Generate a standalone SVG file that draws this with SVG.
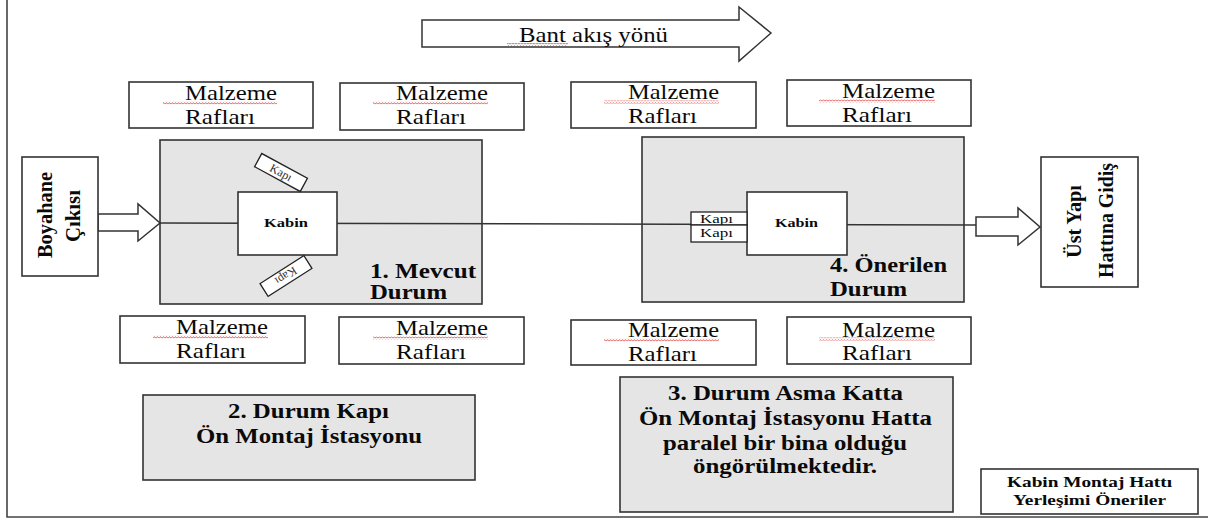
<svg xmlns="http://www.w3.org/2000/svg" width="1208" height="519" viewBox="0 0 1208 519" font-family="'Liberation Serif', 'DejaVu Serif', serif">
<style>
text{font-family:'Liberation Serif','DejaVu Serif',serif;fill:#0a0a0a}
.box{fill:#fff;stroke:#333;stroke-width:1.6}
.gray{fill:#e5e5e5;stroke:#333;stroke-width:1.6}
.thin{fill:#fff;stroke:#222;stroke-width:1.3}
.arrow{fill:#fff;stroke:#333;stroke-width:1.5;stroke-linejoin:miter}
.r21{font-size:22px}
.b20{font-size:20px;font-weight:bold}
.kapi{font-size:12px;fill:#333}
.kabin{font-size:12px;font-weight:bold}
.sq{fill:url(#squig)}
</style>
<defs>
<pattern id="squig" patternUnits="userSpaceOnUse" width="3" height="3">
<path d="M0 2.4 L1.5 0.6 L3 2.4" fill="none" stroke="#e0484a" stroke-width="0.9"/>
</pattern>
</defs>
<rect width="1208" height="519" fill="#fff"/>
<g id="frame" fill="none" stroke="#444" stroke-width="1.6">
<path d="M7 0 V517 H1208"/>
</g>
<g id="bant">
<path class="arrow" d="M422 20 H739 V7 L771 33 L739 61 V47 H422 Z"/>
<text x="519" y="42" font-size="22" textLength="149" lengthAdjust="spacingAndGlyphs">Bant akış yönü</text>
<rect class="sq" x="507" y="43" width="61" height="3"/>
</g>
<g id="raf-top-1">
<rect class="box" x="129" y="82" width="184" height="46"/>
<text class="r21" x="185" y="100" textLength="92" lengthAdjust="spacingAndGlyphs">Malzeme</text>
<text class="r21" x="185" y="124" textLength="70" lengthAdjust="spacingAndGlyphs">Rafları</text>
<rect class="sq" x="163" y="101.5" width="114" height="3"/>
</g>
<g id="raf-top-2">
<rect class="box" x="340" y="83" width="184" height="47"/>
<text class="r21" x="396" y="100" textLength="92" lengthAdjust="spacingAndGlyphs">Malzeme</text>
<text class="r21" x="396" y="124" textLength="70" lengthAdjust="spacingAndGlyphs">Rafları</text>
<rect class="sq" x="373" y="101.5" width="115" height="3"/>
</g>
<g id="raf-top-3">
<rect class="box" x="571" y="82" width="185" height="46"/>
<text class="r21" x="628" y="99" textLength="91" lengthAdjust="spacingAndGlyphs">Malzeme</text>
<text class="r21" x="628" y="123" textLength="69" lengthAdjust="spacingAndGlyphs">Rafları</text>
<rect class="sq" x="604" y="100.5" width="115" height="3"/>
</g>
<g id="raf-top-4">
<rect class="box" x="787" y="80" width="184" height="46"/>
<text class="r21" x="842" y="98" textLength="93" lengthAdjust="spacingAndGlyphs">Malzeme</text>
<text class="r21" x="842" y="122" textLength="70" lengthAdjust="spacingAndGlyphs">Rafları</text>
<rect class="sq" x="819" y="99.5" width="116" height="3"/>
</g>
<g id="raf-bot-1">
<rect class="box" x="120" y="316" width="185" height="47"/>
<text class="r21" x="176" y="334" textLength="92" lengthAdjust="spacingAndGlyphs">Malzeme</text>
<text class="r21" x="176" y="358" textLength="70" lengthAdjust="spacingAndGlyphs">Rafları</text>
<rect class="sq" x="153" y="335.5" width="115" height="3"/>
</g>
<g id="raf-bot-2">
<rect class="box" x="339" y="317" width="185" height="47"/>
<text class="r21" x="396" y="335" textLength="92" lengthAdjust="spacingAndGlyphs">Malzeme</text>
<text class="r21" x="396" y="359" textLength="70" lengthAdjust="spacingAndGlyphs">Rafları</text>
<rect class="sq" x="373" y="336.5" width="115" height="3"/>
</g>
<g id="raf-bot-3">
<rect class="box" x="571" y="320" width="185" height="45"/>
<text class="r21" x="628" y="337" textLength="91" lengthAdjust="spacingAndGlyphs">Malzeme</text>
<text class="r21" x="628" y="361" textLength="69" lengthAdjust="spacingAndGlyphs">Rafları</text>
<rect class="sq" x="604" y="338.5" width="115" height="3"/>
</g>
<g id="raf-bot-4">
<rect class="box" x="787" y="317" width="184" height="47"/>
<text class="r21" x="842" y="337" textLength="93" lengthAdjust="spacingAndGlyphs">Malzeme</text>
<text class="r21" x="842" y="360" textLength="70" lengthAdjust="spacingAndGlyphs">Rafları</text>
<rect class="sq" x="819" y="337.5" width="116" height="3"/>
</g>
<g id="durum-1">
<rect class="gray" x="160" y="140" width="322" height="164"/>
<text class="b20" x="370" y="278" textLength="106" lengthAdjust="spacingAndGlyphs">1. Mevcut</text>
<text class="b20" x="370" y="299" textLength="77" lengthAdjust="spacingAndGlyphs">Durum</text>
</g>
<g id="durum-4">
<rect class="gray" x="642" y="137" width="322" height="165"/>
<text class="b20" x="830" y="272" textLength="117" lengthAdjust="spacingAndGlyphs">4. Önerilen</text>
<text class="b20" x="830" y="296" textLength="77" lengthAdjust="spacingAndGlyphs">Durum</text>
</g>
<g id="connectors">
<path d="M160 223 L976 225" fill="none" stroke="#333" stroke-width="1.5"/>
<path class="arrow" d="M98 214 H138 V204 L160 223 L138 241 V231 H98 Z"/>
<path class="arrow" d="M976 217 H1018 V208 L1040 227 L1018 245 V236 H976 Z"/>
</g>
<g id="kabin-1">
<rect class="box" x="238" y="192" width="99" height="63"/>
<text class="kabin" x="264" y="227" textLength="44" lengthAdjust="spacingAndGlyphs">Kabin</text>
</g>
<g id="kapi-1a" transform="translate(281 172.5) rotate(28.5)">
<rect class="thin" x="-26" y="-7.5" width="52" height="15"/>
<text class="kapi" x="0" y="4" text-anchor="middle">Kapı</text>
</g>
<g id="kapi-1b" transform="translate(286 276) rotate(147.5)">
<rect class="thin" x="-26" y="-7.5" width="52" height="15"/>
<text class="kapi" x="0" y="4" text-anchor="middle">Kapı</text>
</g>
<g id="kabin-4">
<rect class="box" x="747" y="192" width="100" height="63"/>
<text class="kabin" x="775" y="227" textLength="43" lengthAdjust="spacingAndGlyphs">Kabin</text>
</g>
<g id="kapi-4a">
<rect class="thin" x="691" y="212" width="56" height="13" stroke-width="1.6"/>
<text x="700" y="223" font-size="12" fill="#222" textLength="33" lengthAdjust="spacingAndGlyphs">Kapı</text>
</g>
<g id="kapi-4b">
<rect class="thin" x="691" y="225" width="56" height="17"/>
<text x="700" y="237" font-size="12" fill="#222" textLength="33" lengthAdjust="spacingAndGlyphs">Kapı</text>
</g>
<g id="boyahane">
<rect class="box" x="22" y="157" width="76" height="119"/>
<text class="b20" transform="translate(52 258) rotate(-90)" textLength="86" lengthAdjust="spacingAndGlyphs">Boyahane</text>
<text class="b20" transform="translate(80 242) rotate(-90)" textLength="52" lengthAdjust="spacingAndGlyphs">Çıkısı</text>
</g>
<g id="ust-yapi">
<rect class="box" x="1041" y="157" width="97" height="130"/>
<text class="b20" transform="translate(1081 258) rotate(-90)" textLength="73" lengthAdjust="spacingAndGlyphs">Üst Yapı</text>
<text class="b20" transform="translate(1113 278) rotate(-90)" textLength="115" lengthAdjust="spacingAndGlyphs">Hattına Gidiş</text>
</g>
<g id="durum-2">
<rect class="gray" x="143" y="395" width="332" height="85"/>
<text class="b20" x="228" y="418" textLength="161" lengthAdjust="spacingAndGlyphs">2. Durum Kapı</text>
<text class="b20" x="196" y="443" textLength="226" lengthAdjust="spacingAndGlyphs">Ön Montaj İstasyonu</text>
</g>
<g id="durum-3">
<rect class="gray" x="620" y="377" width="333" height="135"/>
<text class="b20" x="668" y="400" textLength="235" lengthAdjust="spacingAndGlyphs">3. Durum Asma Katta</text>
<text class="b20" x="639" y="425" textLength="293" lengthAdjust="spacingAndGlyphs">Ön Montaj İstasyonu Hatta</text>
<text class="b20" x="663" y="450" textLength="244" lengthAdjust="spacingAndGlyphs">paralel bir bina olduğu</text>
<text class="b20" x="693" y="473" textLength="184" lengthAdjust="spacingAndGlyphs">öngörülmektedir.</text>
</g>
<g id="baslik">
<rect class="box" x="981" y="469" width="217" height="45"/>
<text x="1007" y="487" font-size="14" font-weight="bold" textLength="165" lengthAdjust="spacingAndGlyphs">Kabin Montaj Hattı</text>
<text x="1013" y="505" font-size="14" font-weight="bold" textLength="153" lengthAdjust="spacingAndGlyphs">Yerleşimi Öneriler</text>
</g>
</svg>
